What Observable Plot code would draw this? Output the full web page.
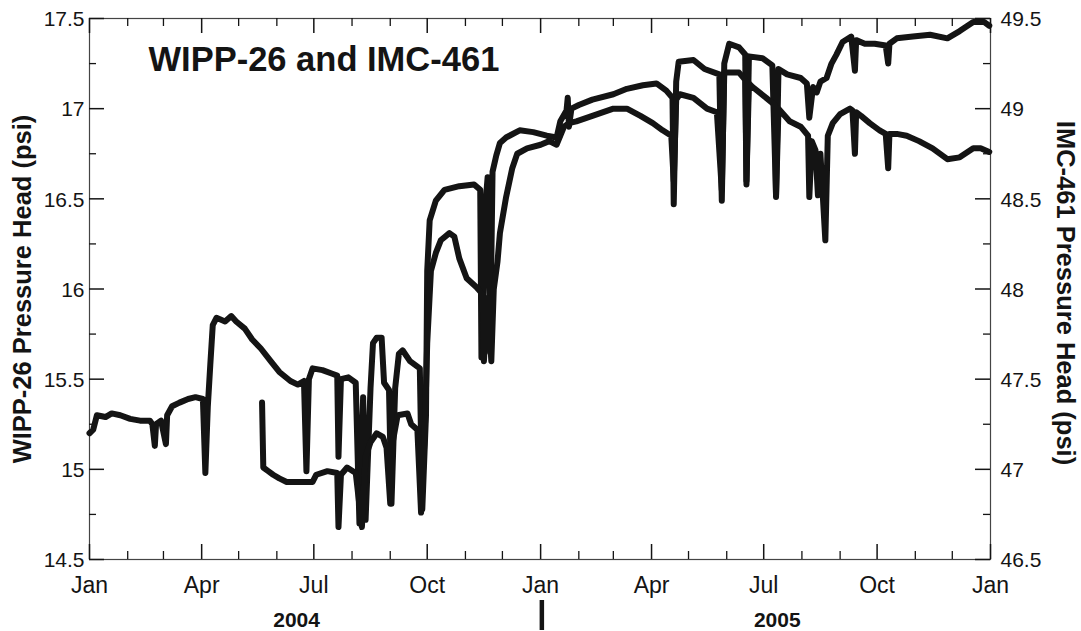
<!DOCTYPE html>
<html><head><meta charset="utf-8">
<script src="https://cdn.jsdelivr.net/npm/d3@7"></script>
<script src="https://cdn.jsdelivr.net/npm/@observablehq/plot@0.6"></script>
<style>
html,body{margin:0;padding:0;background:#fff;}
#chart svg{display:block;}
</style></head><body><div id="chart"></div>
<script>
// ---------- data ----------
const titleText = "WIPP-26 and IMC-461";
const leftLabel = "WIPP-26 Pressure Head (psi)";
const rightLabel = "IMC-461 Pressure Head (psi)";

const wippDates = [
"2004-01-01","2004-01-04","2004-01-07","2004-01-14","2004-01-19","2004-01-26","2004-02-03","2004-02-11","2004-02-19","2004-02-21",
"2004-02-23","2004-02-24","2004-02-28","2004-03-03","2004-03-04","2004-03-08","2004-03-14","2004-03-21","2004-03-27","2004-04-02",
"2004-04-04","2004-04-06","2004-04-08","2004-04-10","2004-04-13","2004-04-20","2004-04-25","2004-04-29","2004-05-06","2004-05-12",
"2004-05-19","2004-05-27","2004-06-03","2004-06-12","2004-06-18","2004-06-23","2004-06-25","2004-06-27","2004-06-30","2004-07-08",
"2004-07-16","2004-07-20","2004-07-21","2004-07-23","2004-07-29","2004-08-04","2004-08-07","2004-08-10","2004-08-12","2004-08-16",
"2004-08-18","2004-08-21","2004-08-25","2004-08-27","2004-08-31","2004-09-02","2004-09-05","2004-09-08","2004-09-11","2004-09-17",
"2004-09-25","2004-09-27","2004-09-30","2004-10-01","2004-10-03","2004-10-08","2004-10-15","2004-10-27","2004-11-08","2004-11-13",
"2004-11-14","2004-11-17","2004-11-19","2004-11-21","2004-11-23","2004-11-26","2004-11-29","2004-12-04","2004-12-15","2004-12-26",
"2005-01-06","2005-01-14","2005-01-17","2005-01-22","2005-01-23","2005-01-24","2005-01-26","2005-02-01","2005-02-12","2005-03-01",
"2005-03-12","2005-03-25","2005-04-05","2005-04-13","2005-04-18","2005-04-19","2005-04-21","2005-04-23","2005-05-05","2005-05-14",
"2005-05-26","2005-05-28","2005-05-30","2005-06-03","2005-06-11","2005-06-16","2005-06-17","2005-06-19","2005-06-30","2005-07-08",
"2005-07-11","2005-07-13","2005-07-20","2005-07-31","2005-08-05","2005-08-07","2005-08-10","2005-08-13","2005-08-16","2005-08-21",
"2005-08-25","2005-08-29","2005-09-03","2005-09-10","2005-09-13","2005-09-14","2005-09-21","2005-09-29","2005-10-08","2005-10-10",
"2005-10-11","2005-10-17","2005-10-30","2005-11-13","2005-11-27","2005-12-07","2005-12-18","2005-12-27","2005-12-31"
];
const wippValues = [
15.20,15.22,15.30,15.29,15.31,15.30,15.28,15.27,15.27,15.25,
15.13,15.25,15.27,15.14,15.30,15.35,15.37,15.39,15.40,15.39,
14.98,15.35,15.58,15.80,15.84,15.82,15.85,15.82,15.78,15.72,
15.67,15.60,15.54,15.49,15.47,15.49,14.99,15.50,15.56,15.55,
15.53,15.52,15.07,15.50,15.51,15.48,14.70,15.40,14.72,15.45,
15.70,15.73,15.73,15.48,15.44,14.81,15.45,15.64,15.66,15.60,
15.56,14.78,15.30,16.10,16.38,16.49,16.55,16.57,16.58,16.55,
15.62,16.45,16.62,15.65,16.65,16.74,16.81,16.84,16.88,16.87,
16.85,16.84,16.93,16.99,17.06,16.90,17.00,17.02,17.05,17.08,
17.11,17.13,17.14,17.10,17.06,16.47,17.15,17.26,17.27,17.22,
17.19,16.49,17.25,17.36,17.34,17.30,16.58,17.29,17.28,17.24,
16.52,17.22,17.19,17.17,17.14,16.95,17.12,17.09,17.15,17.17,
17.25,17.30,17.37,17.40,17.21,17.38,17.36,17.36,17.35,17.25,
17.36,17.39,17.40,17.41,17.39,17.43,17.48,17.48,17.46
];

const imcDates = [
"2004-05-20","2004-05-21","2004-05-25","2004-05-29","2004-06-03","2004-06-09","2004-06-20","2004-06-30","2004-07-03","2004-07-12",
"2004-07-20","2004-07-21","2004-07-23","2004-07-28","2004-08-04","2004-08-09","2004-08-12","2004-08-16","2004-08-21","2004-08-26",
"2004-08-29","2004-09-01","2004-09-03","2004-09-07","2004-09-15","2004-09-18","2004-09-23","2004-09-26","2004-09-29","2004-10-01",
"2004-10-04","2004-10-08","2004-10-12","2004-10-19","2004-10-23","2004-10-27","2004-11-02","2004-11-10","2004-11-15","2004-11-16",
"2004-11-19","2004-11-22","2004-11-24","2004-11-27","2004-11-29","2004-12-04","2004-12-09","2004-12-13","2004-12-21","2005-01-01",
"2005-01-08","2005-01-14","2005-01-17","2005-01-20","2005-01-24","2005-01-30","2005-02-12","2005-03-01","2005-03-12","2005-03-23",
"2005-04-02","2005-04-10","2005-04-17","2005-04-19","2005-04-21","2005-04-24","2005-05-05","2005-05-16","2005-05-24","2005-05-28",
"2005-05-30","2005-06-11","2005-06-16","2005-06-17","2005-06-19","2005-06-22","2005-07-03","2005-07-10","2005-07-11","2005-07-13",
"2005-07-22","2005-07-31","2005-08-06","2005-08-07","2005-08-09","2005-08-12","2005-08-14","2005-08-16","2005-08-20","2005-08-22",
"2005-08-26","2005-09-01","2005-09-09","2005-09-11","2005-09-13","2005-09-14","2005-09-18","2005-09-25","2005-10-03","2005-10-08",
"2005-10-10","2005-10-11","2005-10-17","2005-10-25","2005-11-04","2005-11-15","2005-11-27","2005-12-07","2005-12-18","2005-12-24",
"2005-12-31"
];
const imcValues = [
47.37,47.01,46.99,46.97,46.95,46.93,46.93,46.93,46.97,46.99,
46.98,46.68,46.97,47.01,46.98,46.68,47.07,47.15,47.20,47.18,
47.12,46.81,47.15,47.30,47.31,47.25,47.22,46.76,47.20,47.70,
48.10,48.20,48.27,48.31,48.29,48.17,48.06,48.01,47.97,47.60,
47.95,47.60,48.00,48.15,48.31,48.51,48.67,48.75,48.78,48.80,
48.82,48.80,48.85,48.90,48.92,48.93,48.96,49.00,49.00,48.96,
48.92,48.88,48.85,48.60,49.05,49.08,49.06,49.00,48.98,48.55,
49.20,49.20,49.16,48.60,49.14,49.12,49.06,49.02,48.51,49.00,
48.93,48.90,48.85,48.51,48.82,48.77,48.52,48.75,48.27,48.85,
48.92,48.97,49.00,48.99,48.75,48.98,48.96,48.92,48.88,48.86,
48.67,48.86,48.86,48.85,48.82,48.78,48.72,48.73,48.78,48.78,
48.76
];
const imcOffset = 32; // right axis value = left axis value + 32

const yMajorTicks = [14.5, 15, 15.5, 16, 16.5, 17, 17.5];
const yMinorTicks = [14.75, 15.25, 15.75, 16.25, 16.75, 17.25];
const yLeftLabels = ["14.5", "15", "15.5", "16", "16.5", "17", "17.5"];
const yRightLabels = ["46.5", "47", "47.5", "48", "48.5", "49", "49.5"];

const xQuarterTicks = ["2004-01-01","2004-04-01","2004-07-01","2004-10-01","2005-01-01","2005-04-01","2005-07-01","2005-10-01","2006-01-01"];
const xQuarterLabels = ["Jan","Apr","Jul","Oct","Jan","Apr","Jul","Oct","Jan"];
const xMonthTicks = ["2004-02-01","2004-03-01","2004-05-01","2004-06-01","2004-08-01","2004-09-01","2004-11-01","2004-12-01",
                     "2005-02-01","2005-03-01","2005-05-01","2005-06-01","2005-08-01","2005-09-01","2005-11-01","2005-12-01"];
const yearLabels = ["2004", "2005"];
const yearLabelDates = ["2004-06-17", "2005-07-12"];
const yearDivider = ["2005-01-02"];

// ---------- build ----------
const parse = s => new Date(s + "T00:00:00Z");
const wipp = wippDates.map((d, i) => ({date: parse(d), v: wippValues[i]}));
const imc = imcDates.map((d, i) => ({date: parse(d), v: imcValues[i]}));
const quarterDates = xQuarterTicks.map(parse);
const monthDates = xMonthTicks.map(parse);
const qLabel = new Map(quarterDates.map((d, i) => [+d, xQuarterLabels[i]]));
const years = yearLabels.map((t, i) => ({date: parse(yearLabelDates[i]), label: t}));

const W = 1081, H = 631, mt = 18, mb = 72, ml = 89, mr = 91;
const ph = H - mt - mb, pw = W - ml - mr;
const ink = "#141414";
const font = "'Liberation Sans', Arial, Helvetica, sans-serif";

const chart = Plot.plot({
  width: W, height: H,
  marginTop: mt, marginBottom: mb, marginLeft: ml, marginRight: mr,
  style: {fontFamily: font, fontSize: "21px", color: ink, background: "#fff", overflow: "visible"},
  x: {type: "utc", domain: [parse("2004-01-01"), parse("2006-01-01")], label: null},
  y: {domain: [14.5, 17.5], label: null},
  marks: [
    Plot.frame({stroke: "#444", strokeWidth: 1.2}),
    // inward ticks: bottom / top
    Plot.tickX(quarterDates, {x: d => d, insetTop: ph - 15, stroke: ink, strokeWidth: 1.5}),
    Plot.tickX(monthDates, {x: d => d, insetTop: ph - 8, stroke: ink, strokeWidth: 1.3}),
    Plot.tickX(quarterDates, {x: d => d, insetBottom: ph - 15, stroke: ink, strokeWidth: 1.5}),
    Plot.tickX(monthDates, {x: d => d, insetBottom: ph - 8, stroke: ink, strokeWidth: 1.3}),
    // inward ticks: left / right
    Plot.tickY(yMajorTicks, {y: d => d, insetRight: pw - 15, stroke: ink, strokeWidth: 1.5}),
    Plot.tickY(yMinorTicks, {y: d => d, insetRight: pw - 7, stroke: ink, strokeWidth: 1.3}),
    Plot.tickY(yMajorTicks, {y: d => d, insetLeft: pw - 15, stroke: ink, strokeWidth: 1.5}),
    Plot.tickY(yMinorTicks, {y: d => d, insetLeft: pw - 7, stroke: ink, strokeWidth: 1.3}),
    // tick labels
    Plot.axisX({ticks: quarterDates, tickSize: 0, tickPadding: 17, fontSize: 23, label: null,
                tickFormat: d => qLabel.get(+d)}),
    Plot.axisY({anchor: "left", ticks: yMajorTicks, tickSize: 0, tickPadding: 5, fontSize: 21, label: null, dy: 1,
                tickFormat: d => yLeftLabels[yMajorTicks.indexOf(d)]}),
    Plot.axisY({anchor: "right", ticks: yMajorTicks, tickSize: 0, tickPadding: 10, fontSize: 21, label: null, dy: 1,
                tickFormat: d => yRightLabels[yMajorTicks.indexOf(d)]}),
    // data
    Plot.lineY(wipp, {x: "date", y: "v", stroke: ink, strokeWidth: 6, strokeLinejoin: "round", strokeLinecap: "round"}),
    Plot.lineY(imc, {x: "date", y: d => d.v - imcOffset, stroke: ink, strokeWidth: 6, strokeLinejoin: "round", strokeLinecap: "round"}),
    // title
    Plot.text([titleText], {text: d => d, frameAnchor: "top-left", dx: 59, dy: 52, lineAnchor: "bottom",
                textAnchor: "start", fontSize: 34.5, fontWeight: "bold", fill: ink}),
    // axis titles
    Plot.text([leftLabel], {text: d => d, frameAnchor: "left", dx: -67, rotate: -90, lineAnchor: "middle",
                textAnchor: "middle", fontSize: 25.5, fontWeight: "bold", fill: ink}),
    Plot.text([rightLabel], {text: d => d, frameAnchor: "right", dx: 75, dy: 4, rotate: 90, lineAnchor: "middle",
                textAnchor: "middle", fontSize: 25.5, fontWeight: "bold", fill: ink}),
    // year labels and divider
    Plot.text(years, {x: "date", text: "label", frameAnchor: "bottom", dy: 61, lineAnchor: "middle",
                fontSize: 21, fontWeight: "bold", fill: ink}),
    Plot.tickX(yearDivider.map(parse), {x: d => d, insetTop: ph + 41, insetBottom: -71, stroke: ink, strokeWidth: 4.5})
  ]
});
document.getElementById("chart").appendChild(chart);
</script>
</body></html>
